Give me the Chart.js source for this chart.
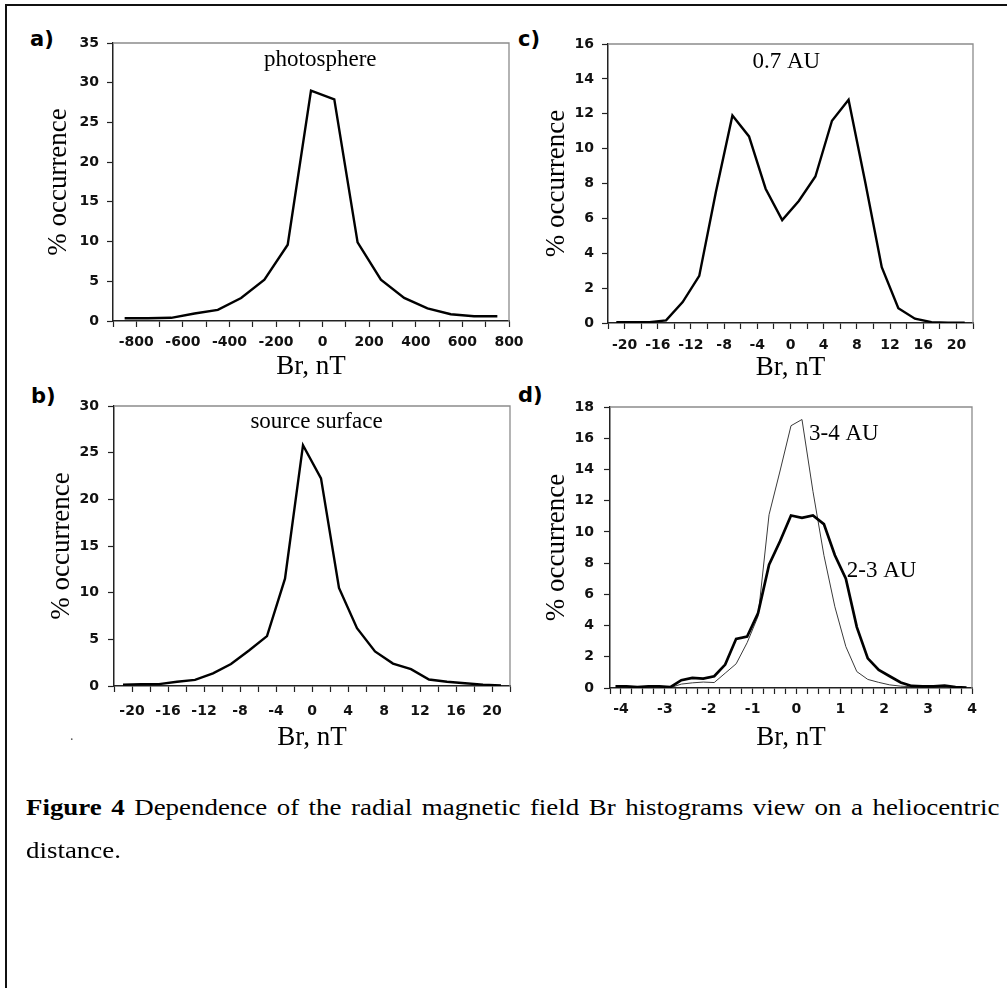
<!DOCTYPE html>
<html>
<head>
<meta charset="utf-8">
<script src="https://cdn.jsdelivr.net/npm/chart.js@4.4.1/dist/chart.umd.min.js"></script>
<style>
  html, body { margin: 0; padding: 0; background: #fff; }
  body { width: 1007px; height: 988px; position: relative; overflow: hidden; }
  #frame { position: absolute; left: 5px; top: 4px; width: 1100px; height: 1100px;
           border-top: 2px solid #111; border-left: 2px solid #111; }
  canvas { position: absolute; }
  .tag { position: absolute; font: bold 21px "DejaVu Sans"; line-height: 1; color: #000; }
  .caption { position: absolute; left: 26px; font: 23px "Liberation Serif"; line-height: 44px;
             color: #000; white-space: nowrap; transform-origin: 0 0; transform: scaleX(1.17); }
  #cap1 { width: 832px; text-align: justify; text-align-last: justify; }
</style>
</head>
<body>
<div id="frame"></div>

<div class="tag" style="left:30px; top:29px">a)</div>
<div class="tag" style="left:518px; top:29px">c)</div>
<div class="tag" style="left:31px; top:386px">b)</div>
<div class="tag" style="left:518px; top:385px">d)</div>

<canvas id="chartA"></canvas>
<canvas id="chartB"></canvas>
<canvas id="chartC"></canvas>
<canvas id="chartD"></canvas>

<span style="position:absolute; left:70px; top:728px; font:14px 'Liberation Serif'; color:#555">.</span>

<div class="caption" id="cap1" style="top:786px"><b>Figure 4</b> Dependence of the radial magnetic field Br histograms view on a heliocentric</div>
<div class="caption" id="cap2" style="top:829px">distance.</div>

<script>
// a) photosphere
const photoBr = [-850, -750, -650, -550, -450, -350, -250, -150, -50, 50, 150, 250, 350, 450, 550, 650, 750];
const photoPct = [0.35, 0.35, 0.4, 0.95, 1.4, 2.9, 5.2, 9.6, 29.0, 27.9, 9.9, 5.2, 2.9, 1.6, 0.85, 0.6, 0.6];
const photoTicks = [-800, -600, -400, -200, 0, 200, 400, 600, 800];

// b) source surface, c) 0.7 AU  (bins of 2 nT)
const binsNT = [-21, -19, -17, -15, -13, -11, -9, -7, -5, -3, -1, 1, 3, 5, 7, 9, 11, 13, 15, 17, 19, 21];
const sourcePct = [0.15, 0.18, 0.2, 0.45, 0.65, 1.35, 2.35, 3.8, 5.35, 11.5, 25.8, 22.25, 10.5, 6.2, 3.7, 2.4, 1.8, 0.7, 0.45, 0.3, 0.15, 0.07];
const au07Pct = [0.05, 0.05, 0.05, 0.15, 1.2, 2.7, 7.5, 11.9, 10.7, 7.7, 5.9, 7.0, 8.4, 11.6, 12.8, 8.1, 3.2, 0.85, 0.25, 0.05, 0.02, 0.02];
const nTTicks = [-20, -16, -12, -8, -4, 0, 4, 8, 12, 16, 20];

// d) 2-3 AU and 3-4 AU (bins of 0.25 nT)
const farBr = [-4.125, -3.875, -3.625, -3.375, -3.125, -2.875, -2.625, -2.375, -2.125, -1.875, -1.625,
               -1.375, -1.125, -0.875, -0.625, -0.375, -0.125, 0.125, 0.375, 0.625, 0.875, 1.125,
               1.375, 1.625, 1.875, 2.125, 2.375, 2.625, 2.875, 3.125, 3.375, 3.625, 3.875];
const au23Pct = [0.1, 0.1, 0.05, 0.1, 0.1, 0.05, 0.5, 0.65, 0.6, 0.75, 1.5, 3.15, 3.3, 4.8, 7.9, 9.4, 11.05,
                 10.9, 11.05, 10.5, 8.5, 7.0, 3.9, 1.9, 1.15, 0.75, 0.35, 0.13, 0.1, 0.1, 0.15, 0.06, 0.02];
const au34Pct = [0.02, 0.02, 0.02, 0.02, 0.02, 0.02, 0.25, 0.33, 0.38, 0.35, 0.95, 1.55, 2.9, 4.6, 11.1, 13.9, 16.8,
                 17.2, 12.6, 8.5, 5.2, 2.65, 1.05, 0.55, 0.36, 0.2, 0.12, 0.08, 0.05, 0.05, 0.05, 0.03, 0.02];
const farTicks = [-4, -3, -2, -1, 0, 1, 2, 3, 4];

const toPoints = (xs, ys) => xs.map((x, i) => ({ x: x, y: ys[i] }));

// gray top/right frame of the plot area + text notes placed in data units
function panelExtras(notes) {
    return {
        id: 'extras',
        beforeDatasetsDraw(chart) {
            const { ctx, chartArea: a } = chart;
            ctx.save();
            ctx.strokeStyle = '#8c8c8c';
            ctx.lineWidth = 1.3;
            ctx.beginPath();
            ctx.moveTo(a.left, a.top);
            ctx.lineTo(a.right, a.top);
            ctx.lineTo(a.right, a.bottom);
            ctx.stroke();
            ctx.restore();
        },
        afterDatasetsDraw(chart) {
            const { ctx, scales } = chart;
            ctx.save();
            ctx.font = '23px "Liberation Serif"';
            ctx.fillStyle = '#000';
            ctx.textAlign = 'center';
            ctx.textBaseline = 'alphabetic';
            notes.forEach(n => {
                ctx.fillText(n.text, scales.x.getPixelForValue(n.x), scales.y.getPixelForValue(n.y));
            });
            ctx.restore();
        }
    };
}

function drawPanel(id, p) {
    const canvas = document.getElementById(id);
    const box = { left: p.area.left - 100, top: p.area.top - 30, right: p.area.right + 30, bottom: p.area.bottom + 72 };
    canvas.width = box.right - box.left;
    canvas.height = box.bottom - box.top;
    canvas.style.left = box.left + 'px';
    canvas.style.top = box.top + 'px';

    const tickFont = { family: 'DejaVu Sans', size: 14, weight: 'bold' };
    const titleFont = { family: 'Liberation Serif', size: 27, lineHeight: 1 };

    new Chart(canvas, {
        type: 'line',
        data: { datasets: p.datasets },
        options: {
            responsive: false,
            animation: false,
            layout: { padding: { left: 0, top: 30, right: 30, bottom: 0 } },
            plugins: { legend: { display: false }, tooltip: { enabled: false } },
            elements: { point: { radius: 0 }, line: { tension: 0 } },
            scales: {
                x: {
                    type: 'linear',
                    min: p.xMin, max: p.xMax,
                    ticks: {
                        stepSize: p.xStep, autoSkip: false, maxRotation: 0,
                        font: tickFont, color: '#111', padding: p.xPad,
                        callback: v => p.xLabels.includes(v) ? String(v) : ''
                    },
                    grid: { drawOnChartArea: false, drawTicks: true, tickLength: 6, color: '#222', tickWidth: 1.2 },
                    border: { color: '#222', width: 1.5 },
                    title: {
                        display: true, text: 'Br, nT', font: titleFont, color: '#000',
                        padding: { top: 0, bottom: box.bottom - 13.5 - (p.xTitleBase - 9) }
                    },
                    afterFit: s => { s.height = 72; }
                },
                y: {
                    min: 0, max: p.yMax,
                    ticks: { stepSize: p.yStep, font: tickFont, color: '#111', padding: p.yPad },
                    grid: { drawOnChartArea: false, drawTicks: true, tickLength: 6, color: '#222', tickWidth: 1.2 },
                    border: { color: '#222', width: 1.5 },
                    title: {
                        display: true, text: '% occurrence', font: titleFont, color: '#000',
                        padding: { top: (p.yTitleBase - 9) - box.left - 13.5, bottom: 0 }
                    },
                    afterFit: s => { s.width = 100; }
                }
            }
        },
        plugins: [panelExtras(p.notes)]
    });
}

drawPanel('chartA', {
    area: { left: 113, top: 43, right: 509, bottom: 321 },
    datasets: [{ data: toPoints(photoBr, photoPct), borderColor: '#000', borderWidth: 2.4 }],
    xMin: -900, xMax: 800, xStep: 100, xLabels: photoTicks, xPad: 7, xTitleBase: 376,
    yMax: 35, yStep: 5, yPad: 8, yTitleBase: 68,
    notes: [{ text: 'photosphere', x: -10, y: 32.1 }]
});

drawPanel('chartB', {
    area: { left: 114, top: 406, right: 510, bottom: 686 },
    datasets: [{ data: toPoints(binsNT, sourcePct), borderColor: '#000', borderWidth: 2.4 }],
    xMin: -22, xMax: 22, xStep: 2, xLabels: nTTicks, xPad: 11, xTitleBase: 747,
    yMax: 30, yStep: 5, yPad: 9, yTitleBase: 71,
    notes: [{ text: 'source surface', x: 0.5, y: 27.6 }]
});

drawPanel('chartC', {
    area: { left: 608, top: 44, right: 973, bottom: 323 },
    datasets: [{ data: toPoints(binsNT, au07Pct), borderColor: '#000', borderWidth: 2.4 }],
    xMin: -22, xMax: 22, xStep: 2, xLabels: nTTicks, xPad: 8, xTitleBase: 377,
    yMax: 16, yStep: 2, yPad: 8, yTitleBase: 566,
    notes: [{ text: '0.7 AU', x: -0.5, y: 14.6 }]
});

drawPanel('chartD', {
    area: { left: 610, top: 407, right: 972, bottom: 688 },
    datasets: [
        { label: '2-3 AU', data: toPoints(farBr, au23Pct), borderColor: '#000', borderWidth: 2.7 },
        { label: '3-4 AU', data: toPoints(farBr, au34Pct), borderColor: '#3a3a3a', borderWidth: 1 }
    ],
    xMin: -4.25, xMax: 4, xStep: 0.25, xLabels: farTicks, xPad: 7, xTitleBase: 747,
    yMax: 18, yStep: 2, yPad: 10, yTitleBase: 566,
    notes: [{ text: '3-4 AU', x: 1.08, y: 15.9 }, { text: '2-3 AU', x: 1.94, y: 7.1 }]
});
</script>
</body>
</html>
